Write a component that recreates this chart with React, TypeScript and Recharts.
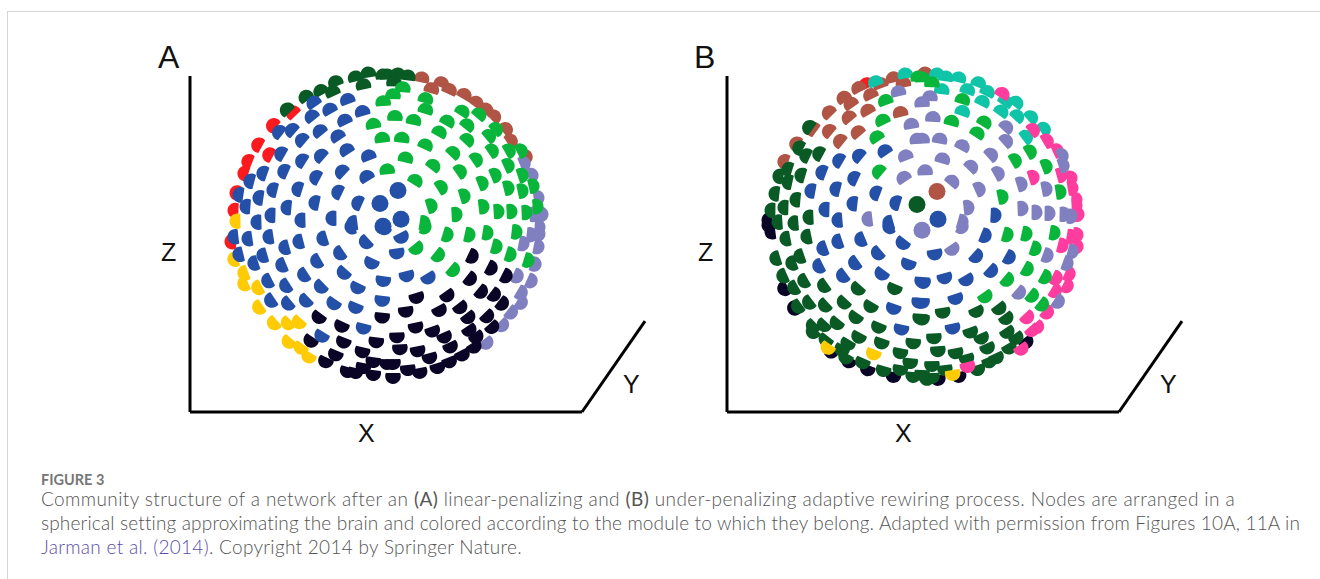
import { ScatterChart, Scatter, XAxis, YAxis, ReferenceLine } from 'recharts';

type Pt = [number, number];

// node positions, in picture pixels
const aBrown: Pt[] = [[422,73],[432,84],[442,78],[450,85],[465,90],[477,98],[487,105],[495,112],[507,125],[512,137],[527,153]];
const aRed: Pt[] = [[292,108],[272,121],[257,141],[268,151],[247,158],[243,170],[235,190],[233,208],[230,240]];
const aYellow: Pt[] = [[235,219],[233,258],[243,272],[243,283],[257,287],[258,307],[273,323],[287,323],[298,322],[288,342],[300,348],[308,357]];
const aPeri: Pt[] = [[525,160],[533,172],[539,195],[535,212],[543,212],[540,225],[540,232],[532,233],[539,245],[524,242],[536,263],[532,280],[518,275],[522,292],[522,302],[512,312],[503,325],[487,343]];
const aDarkGreen: Pt[] = [[286,105],[305,92],[320,86],[335,77],[332,87],[355,72],[368,68],[383,70],[363,80],[387,70],[398,69],[408,71],[394,77]];
const aBlack: Pt[] = [[318,317],[341,326],[382,317],[310,341],[343,342],[376,342],[335,355],[325,362],[362,352],[373,362],[363,368],[347,372],[373,375],[355,373],[387,364],
  [473,255],[492,267],[507,275],[471,278],[448,295],[417,297],[482,291],[495,294],[503,303],[461,307],[440,310],[406,311],[469,317],[488,316],[416,327],[433,331],[470,330],[493,327],[445,337],[397,337],[477,337],[400,349],[418,351],[451,347],[463,355],[475,347],[430,358],[393,364],[408,370],[420,373],[438,368],[393,378],[450,362]];
const aBlue: Pt[] = [[313,98],[329,105],[347,95],[362,107],[311,112],[344,116],[319,127],[337,132],[278,128],[291,126],[301,136],[280,150],[301,157],[320,152],[346,146],[368,152],[262,170],[283,168],[315,174],[341,168],[366,173],[249,178],[238,192],[258,195],[272,187],[297,186],[337,189],[357,200],[245,204],[270,213],[286,205],[314,200],[331,216],[300,218],[256,220],[352,221],
  [233,235],[247,237],[268,235],[284,246],[298,240],[322,237],[365,241],[350,225],[383,227],[238,253],[253,262],[262,254],[281,264],[316,260],[339,252],[371,262],[267,280],[285,285],[303,274],[320,286],[343,272],[357,287],[383,280],[270,300],[287,303],[305,300],[333,303],[355,307],[382,300],[363,328],[321,336],[397,252],[407,275],[429,277],[402,236]];
const aGreen: Pt[] = [[403,83],[393,90],[383,97],[426,94],[426,105],[463,107],[480,110],[395,112],[414,116],[448,117],[468,121],[497,125],[490,132],[440,128],[468,136],[382,134],[402,134],[426,141],[510,147],[522,147],[493,147],[454,149],[477,156],[406,154],[434,162],[509,162],[387,166],[461,168],[496,172],[523,172],[416,177],[483,180],[442,184],[509,185],[523,188],[534,183],[465,193],[432,203],[484,204],[538,204],[499,209],[512,209],[527,210],[457,212],[425,221],[373,120],
  [426,225],[448,233],[470,233],[488,231],[517,230],[417,247],[439,254],[497,245],[511,253],[529,259],[454,269]];
const aDiscs: Pt[] = [[401,217],[380,201],[398,188],[383,224]];

const bBlack: Pt[] = [[770,230],[767,223],[767,218],[783,288],[793,308],[830,352],[848,362],[867,370],[893,377],[1027,342],[959,377],[938,380]];
const bRed: Pt[] = [[866,79]];
const bBrown: Pt[] = [[893,73],[880,79],[858,83],[870,90],[843,93],[850,99],[867,106],[828,108],[848,113],[900,108],[903,78],[812,125],[828,127],[857,128],[839,137],[795,140],[783,158],[925,68]];
const bDarkGreen: Pt[] = [[808,123],[798,144],[805,152],[818,150],[787,166],[778,173],[800,172],[787,179],[774,191],[795,197],[783,205],[770,208],[808,215],[777,220],[793,221],
  [785,237],[806,235],[775,257],[791,262],[799,255],[782,275],[803,280],[793,287],[823,285],[857,288],[894,288],[808,302],[797,306],[824,305],[843,302],[870,306],[855,317],[920,318],[823,325],[836,323],[878,327],[812,326],[858,337],[825,340],[881,343],[913,343],[847,344],[841,350],[900,353],[845,358],[862,363],[910,363],[883,371],[900,370],[913,377],[927,380],[812,332],
  [943,312],[977,311],[1000,308],[922,319],[1007,318],[971,332],[1008,332],[982,338],[1017,338],[934,338],[938,351],[956,353],[967,359],[988,348],[997,358],[1010,348],[932,366],[945,370],[978,370],[990,362],[932,378],[922,375]];
const bTeal: Pt[] = [[875,77],[905,69],[937,69],[946,72],[959,73],[942,85],[968,85],[979,78],[988,87],[983,97],[963,107],[1006,97],[1002,107],[1017,98],[1018,112],[1032,113],[1045,125],[1027,133]];
const bPink: Pt[] = [[1003,89],[1034,126],[1048,137],[1058,147],[1034,174],[1062,172],[1072,175],[1073,185],[1077,197],[1077,203],[1079,212],[1078,233],[1072,235],[1078,245],[1063,244],[1070,273],[1057,277],[1068,285],[1056,290],[1048,312],[1028,317],[1038,327],[1033,330],[968,367],[1022,349]];
const bPeri: Pt[] = [[1048,254],[1073,250],[1068,262],[1020,292],[1059,301],[953,248],[963,225],
  [930,92],[922,98],[933,113],[940,135],[922,135],[963,142],[1007,123],[1007,137],[992,151],[943,155],[972,163],[925,167],[999,170],[1022,181],[953,178],[980,186],[1047,186],[969,205],[1023,206],[1037,210],[1050,211],[1065,212],[1072,214],[1063,152],[1064,162],[963,220],
  [898,87],[911,120],[917,135],[905,152],[903,174],[867,217]];
const bBlue: Pt[] = [[884,147],[858,152],[838,157],[821,169],[853,175],[835,186],[810,188],[875,190],[895,200],[852,201],[824,207],[888,221],[837,218],[996,213],
  [837,240],[860,238],[888,225],[902,242],[822,247],[854,262],[818,265],[877,252],[908,263],[842,275],[881,273],[922,281],[919,302],[893,308],[901,329],
  [986,234],[935,253],[977,255],[1010,256],[945,277],[967,279],[992,270],[923,282],[956,298],[922,302],[953,328]];
const bGreen: Pt[] = [[918,72],[885,96],[882,116],[876,133],[878,168],[932,78],[922,73],[963,95],[952,117],[985,118],[978,129],[1031,148],[1016,157],[1047,163],[1061,189],[1003,194],
  [1008,233],[1027,232],[1055,231],[1036,247],[1028,268],[1046,276],[1008,279],[1033,295],[986,296],[1043,304]];
const bYellow: Pt[] = [[827,348],[873,354],[953,375]];
const bBlueDisc: Pt[] = [[938,217]];
const bPeriDisc: Pt[] = [[922,228]];
const bGreenDisc: Pt[] = [[917,202]];
const bBrownDisc: Pt[] = [[937,189]];

const BROWN = '#b05545';
const RED = '#fb1a1e';
const YELLOW = '#ffcb05';
const PERI = '#8080c0';
const DARK = '#0a5a26';
const BLACK = '#0a0526';
const BLUE = '#2450a8';
const GREEN = '#0ab53c';
const TEAL = '#10c4a8';
const PINK = '#ff3d9f';

const rows = (pts: Pt[]) => pts.map(([x, y]) => ({ x, y }));

const R = 7.8;

// a node is a disc cut a little past its middle, the dome looking away from the hub
const dome = (hub: Pt) => (props: any) => {
  const { cx, cy, fill } = props;
  const dx = cx - hub[0];
  const dy = cy - hub[1];
  const n = Math.hypot(dx, dy) || 1;
  const ux = dx / n;
  const uy = dy / n;
  const ox = cx - ux * 2.3;
  const oy = cy - uy * 2.3;
  const cut = R * 0.4;
  const h = Math.sqrt(R * R - cut * cut);
  const sx = ox - ux * cut;
  const sy = oy - uy * cut;
  const d = `M${sx - uy * h},${sy + ux * h} A${R},${R} 0 1 0 ${sx + uy * h},${sy - ux * h} Z`;
  return <path d={d} fill={fill} />;
};

const disc = (props: any) => <circle cx={props.cx} cy={props.cy} r={8.5} fill={props.fill} />;

interface PanelProps {
  left: number;
  hub: Pt;
  series: [Pt[], string][];
  discs: [Pt[], string][];
}

const Panel = ({ left, hub, series, discs }: PanelProps) => {
  const right = left + 392;
  const shape = dome(hub);
  return (
    <div style={{ position: 'absolute', left: 0, top: 0 }}>
      <ScatterChart width={1320} height={460} margin={{ top: 72, bottom: 48, left, right: 1320 - right }}>
        <XAxis type="number" dataKey="x" domain={[left, right]} hide />
        <YAxis type="number" dataKey="y" domain={[72, 412]} reversed hide />
        <ReferenceLine segment={[{ x: left, y: 72 }, { x: left, y: 412 }]} stroke="#000" strokeWidth={3} ifOverflow="visible" />
        <ReferenceLine segment={[{ x: left, y: 412 }, { x: right, y: 412 }]} stroke="#000" strokeWidth={3} ifOverflow="visible" />
        <ReferenceLine segment={[{ x: right, y: 412 }, { x: right + 63, y: 320 }]} stroke="#000" strokeWidth={3} ifOverflow="visible" />
        {series.map(([pts, color], i) => (
          <Scatter key={i} data={rows(pts)} fill={color} shape={shape} isAnimationActive={false} />
        ))}
        {discs.map(([pts, color], i) => (
          <Scatter key={'d' + i} data={rows(pts)} fill={color} shape={disc} isAnimationActive={false} />
        ))}
      </ScatterChart>
    </div>
  );
};

const axisText = (text: string, x: number, y: number, size: number) => (
  <div key={text + x} style={{ position: 'absolute', left: x, top: y, fontFamily: 'Liberation Sans', fontSize: size, lineHeight: 1, color: '#111' }}>
    {text}
  </div>
);

const lineStyle = (top: number, spacing: number): React.CSSProperties => ({
  position: 'absolute',
  left: 41,
  top,
  whiteSpace: 'nowrap',
  fontFamily: 'Lato',
  fontSize: 19,
  fontWeight: 300,
  letterSpacing: spacing,
  lineHeight: '24px',
  color: '#555',
});

export default function App() {
  return (
    <div style={{ position: 'absolute', left: 0, top: 0, width: 1320, height: 579, background: '#fff', overflow: 'hidden' }}>
      <div style={{ position: 'absolute', left: 7, top: 11, width: 1313, height: 568, borderTop: '1px solid #d4d4d4', borderLeft: '1px solid #d4d4d4' }} />
      <Panel
        left={190}
        hub={[392, 218]}
        series={[[aBrown, BROWN], [aRed, RED], [aYellow, YELLOW], [aPeri, PERI], [aDarkGreen, DARK], [aBlack, BLACK], [aBlue, BLUE], [aGreen, GREEN]]}
        discs={[[aDiscs, BLUE]]}
      />
      <Panel
        left={727}
        hub={[927, 212]}
        series={[[bBlack, BLACK], [bRed, RED], [bBrown, BROWN], [bDarkGreen, DARK], [bTeal, TEAL], [bPink, PINK], [bPeri, PERI], [bBlue, BLUE], [bGreen, GREEN], [bYellow, YELLOW]]}
        discs={[[bBlueDisc, BLUE], [bPeriDisc, PERI], [bGreenDisc, DARK], [bBrownDisc, BROWN]]}
      />
      {axisText('A', 158, 41, 32)}
      {axisText('Z', 161, 240, 25)}
      {axisText('X', 358, 421, 25)}
      {axisText('Y', 623, 372, 25)}
      {axisText('B', 694, 41, 32)}
      {axisText('Z', 698, 240, 25)}
      {axisText('X', 895, 421, 25)}
      {axisText('Y', 1160, 372, 25)}
      <div style={{ ...lineStyle(468, 0), fontSize: 14.5, fontWeight: 700, color: '#777' }}>FIGURE 3</div>
      <div style={lineStyle(487, 0.41)}>
        Community structure of a network after an <b>(A)</b> linear-penalizing and <b>(B)</b> under-penalizing adaptive rewiring process. Nodes are arranged in a
      </div>
      <div style={lineStyle(511, 0.16)}>
        spherical setting approximating the brain and colored according to the module to which they belong. Adapted with permission from Figures 10A, 11A in
      </div>
      <div style={lineStyle(535, 0.3)}>
        <span style={{ color: '#5a4fa8' }}>Jarman et al. (2014)</span>. Copyright 2014 by Springer Nature.
      </div>
    </div>
  );
}
